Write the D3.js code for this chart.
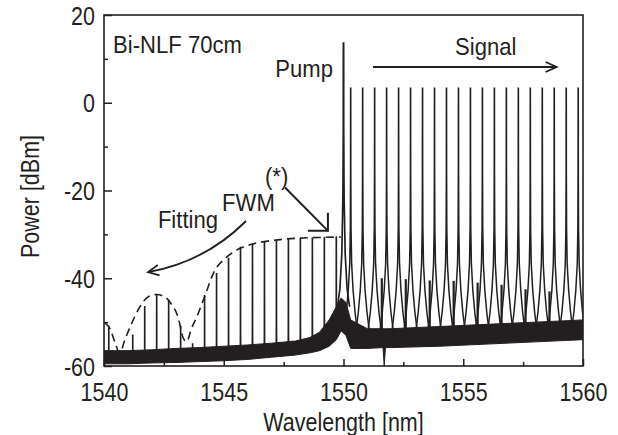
<!DOCTYPE html>
<html>
<head>
<meta charset="utf-8">
<script src="https://cdn.jsdelivr.net/npm/d3@7"></script>
<style>
body { margin: 0; background: #fff; }
svg text { font-family: "Liberation Sans", Arial, sans-serif; fill: #231f20; }
</style>
</head>
<body>
<script>
// ---- data ----
var xTicks = [1540, 1545, 1550, 1555, 1560];
var xMinor = [1542.5, 1547.5, 1552.5, 1557.5];
var yTicks = [-60, -40, -20, 0, 20];
var yMinor = [-50, -30, -10, 10];

var pumpWl = 1550.0;
var pumpDb = 13.6;

var signalWl = [1550.3, 1550.8, 1551.3, 1551.8, 1552.3, 1552.8, 1553.3, 1553.8, 1554.3, 1554.8,
                1555.3, 1555.8, 1556.3, 1556.8, 1557.3, 1557.8, 1558.3, 1558.8, 1559.3, 1559.8];
var signalDb = [3.3, 3.3, 3.3, 3.3, 3.3, 3.3, 3.3, 3.3, 3.3, 3.3,
                3.3, 3.3, 3.3, 3.3, 3.3, 3.3, 3.3, 3.3, 3.3, 3.3];

var idlerWl = [1549.7, 1549.2, 1548.7, 1548.2, 1547.7, 1547.2, 1546.7, 1546.2, 1545.7, 1545.2,
               1544.7, 1544.2, 1543.7, 1543.2, 1542.7, 1542.2, 1541.7, 1541.2, 1540.7, 1540.2];
var idlerDb = [-30.6, -30.7, -30.9, -31.0, -31.2, -31.5, -31.8, -32.3, -33.0, -35.5,
               -39.0, -44.0, -55.0, -51.0, -45.0, -43.8, -46.5, -53.0, -57.0, -51.0];

// small products between signals
var subWl = [1551.6, 1552.6, 1553.6, 1554.6, 1555.6, 1556.6, 1557.6, 1558.6];
var subDb = [-40.0, -40.2, -40.5, -40.6, -41.0, -41.5, -42.5, -43.0];

// noise floor band (lower / upper edge)
var floorWl = [1540.0, 1541.0, 1542.0, 1543.0, 1544.0, 1545.0, 1546.0, 1547.0, 1548.0, 1548.6,
               1549.0, 1549.4, 1549.7, 1549.9, 1550.1, 1550.3, 1551.0, 1551.65, 1551.7, 1551.75,
               1552.0, 1554.0, 1556.0, 1558.0, 1560.0];
var floorLo = [-59.5, -59.5, -59.3, -59.2, -59.0, -58.8, -58.5, -58.0, -57.5, -57.0,
               -56.5, -55.5, -54.0, -52.0, -53.0, -56.0, -56.0, -55.8, -60.0, -55.8,
               -55.8, -55.5, -55.0, -54.5, -54.0];
var floorHi = [-56.5, -56.5, -56.3, -56.0, -55.8, -55.5, -55.2, -54.8, -54.3, -53.5,
               -52.3, -49.5, -46.5, -44.5, -45.5, -49.5, -51.5, -51.5, -51.5, -51.5,
               -51.5, -51.0, -50.5, -50.0, -49.5];

// dashed FWM fitting envelope
var fitWl = [1540.05, 1540.25, 1540.45, 1540.65, 1540.9, 1541.1, 1541.5, 1541.85, 1542.2, 1542.55,
             1542.8, 1543.1, 1543.3, 1543.45, 1543.65, 1543.9, 1544.2, 1544.6, 1545.1, 1545.6,
             1546.2, 1547.0, 1548.0, 1549.0, 1549.9];
var fitDb = [-50.2, -51.5, -54.5, -57.0, -53.6, -51.0, -46.5, -44.2, -43.7, -44.3,
             -45.8, -49.0, -53.5, -54.5, -51.5, -48.5, -44.2, -38.5, -35.3, -33.4,
             -32.2, -31.4, -30.9, -30.7, -30.6];

// line shape of a spike: drop below peak [dB] vs half width [nm]
var lineDrop = [0, 20, 32, 40, 46, 51, 55];
var lineHalf = [0.003, 0.006, 0.015, 0.04, 0.1, 0.18, 0.27];
var pumpDrop = [0, 20, 35, 48, 56, 60, 63];
var pumpHalf = [0.006, 0.01, 0.025, 0.07, 0.15, 0.25, 0.4];

// ---- chart ----
var svgWidth = 618;
var svgHeight = 435;
var svg = d3.select('body')
    .append('svg')
    .attr('width', svgWidth)
    .attr('height', svgHeight);

var x = d3.scaleLinear().domain([1540, 1560]).range([104, 583]);
var y = d3.scaleLinear().domain([-60, 20]).range([366, 15]);
var floorTop = d3.scaleLinear().domain(floorWl).range(floorHi);

svg.append('defs').append('clipPath').attr('id', 'plot')
    .append('rect')
    .attr('x', x(1540)).attr('y', y(20))
    .attr('width', x(1560) - x(1540)).attr('height', y(-60) - y(20));

var g = svg.append('g').attr('clip-path', 'url(#plot)');

// noise floor
var floorData = floorWl.map(function (d, i) { return { wl: d, lo: floorLo[i], hi: floorHi[i] }; });
g.append('path')
    .datum(floorData)
    .attr('d', d3.area()
        .x(function (d) { return x(d.wl); })
        .y0(function (d) { return y(d.lo); })
        .y1(function (d) { return y(d.hi); }))
    .attr('fill', '#231f20')
    .attr('stroke', '#231f20')
    .attr('stroke-width', 1);

// spike from its top down to the noise floor
function peakPath(wl, db, drop, half) {
    var base = floorTop(wl) - 1.5;
    var lv = [], hw = [];
    for (var i = 0; i < drop.length; i++) {
        var level = db - drop[i];
        if (level > base) {
            lv.push(level); hw.push(half[i]);
        } else {
            if (i > 0) {
                var t = (lv[i - 1] - base) / (lv[i - 1] - level);
                hw.push(hw[i - 1] + t * (half[i] - hw[i - 1]));
            } else {
                hw.push(half[0]);
            }
            lv.push(base);
            break;
        }
    }
    if (lv[lv.length - 1] > base) { lv.push(base); hw.push(hw[hw.length - 1]); }
    var pts = [];
    for (var a = lv.length - 1; a >= 0; a--) pts.push([wl - hw[a], lv[a]]);
    for (var b = 0; b < lv.length; b++) pts.push([wl + hw[b], lv[b]]);
    return d3.line()
        .x(function (p) { return x(p[0]); })
        .y(function (p) { return y(p[1]); })(pts);
}

var pk = g.append('g')
    .attr('fill', 'none')
    .attr('stroke', '#231f20');

pk.selectAll('.idler')
    .data(idlerWl)
    .enter()
    .append('path')
        .attr('class', 'idler')
        .attr('d', function (d, i) { return peakPath(d, idlerDb[i], lineDrop, lineHalf); })
        .attr('stroke-width', 1.5);

pk.selectAll('.sub')
    .data(subWl)
    .enter()
    .append('line')
        .attr('class', 'sub')
        .attr('x1', function (d) { return x(d); })
        .attr('x2', function (d) { return x(d); })
        .attr('y1', function (d) { return y(floorTop(d) - 1); })
        .attr('y2', function (d, i) { return y(subDb[i]); })
        .attr('stroke-width', 2.2);

pk.selectAll('.signal')
    .data(signalWl)
    .enter()
    .append('path')
        .attr('class', 'signal')
        .attr('d', function (d, i) { return peakPath(d, signalDb[i], lineDrop, lineHalf); })
        .attr('stroke-width', 1.5);

pk.append('path')
    .attr('d', peakPath(pumpWl, pumpDb, pumpDrop, pumpHalf))
    .attr('stroke-width', 1.7);

// fitting envelope
g.append('path')
    .datum(fitWl.map(function (d, i) { return [d, fitDb[i]]; }))
    .attr('d', d3.line().curve(d3.curveMonotoneX)
        .x(function (d) { return x(d[0]); })
        .y(function (d) { return y(d[1]); }))
    .attr('fill', 'none')
    .attr('stroke', '#231f20')
    .attr('stroke-width', 1.6)
    .attr('stroke-dasharray', '8,5');

// ---- axes ----
var sx = 0.86; // the original lettering is narrow
function styleAxis(sel) {
    sel.attr('font-family', null).attr('font-size', null);
    sel.select('.domain').remove();
    sel.selectAll('line').attr('stroke', '#231f20').attr('stroke-width', 1.5);
    sel.selectAll('text').style('font-size', '25px').attr('fill', null);
}

svg.append('g')
    .attr('transform', 'translate(0,' + y(-60) + ')')
    .call(d3.axisBottom(x).tickValues(xTicks).tickSize(-7).tickFormat(function (d) { return String(d); }))
    .call(styleAxis)
    .call(function (s) {
        s.selectAll('text').attr('y', 35).attr('dy', null).attr('transform', 'scale(' + sx + ',1)');
    });

svg.append('g')
    .attr('transform', 'translate(0,' + y(-60) + ')')
    .call(d3.axisBottom(x).tickValues(xMinor).tickSize(-4).tickFormat(''))
    .call(styleAxis);

svg.append('g')
    .attr('transform', 'translate(' + x(1540) + ',0)')
    .call(d3.axisLeft(y).tickValues(yTicks).tickSize(-8).tickFormat(function (d) { return String(d); }))
    .call(styleAxis)
    .call(function (s) {
        s.selectAll('text').attr('x', -9 / sx).attr('dy', '0.36em').attr('transform', 'scale(' + sx + ',1)');
    });

svg.append('g')
    .attr('transform', 'translate(' + x(1540) + ',0)')
    .call(d3.axisLeft(y).tickValues(yMinor).tickSize(-4).tickFormat(''))
    .call(styleAxis);

svg.append('rect')
    .attr('x', x(1540)).attr('y', y(20))
    .attr('width', x(1560) - x(1540)).attr('height', y(-60) - y(20))
    .attr('fill', 'none')
    .attr('stroke', '#231f20')
    .attr('stroke-width', 1.6);

svg.append('text')
    .attr('transform', 'translate(30,' + ((y(20) + y(-60)) / 2 + 6) + ') rotate(-90) scale(' + sx + ',1)')
    .attr('text-anchor', 'middle')
    .attr('dy', '0.35em')
    .style('font-size', '25px')
    .text('Power [dBm]');

svg.append('text')
    .attr('transform', 'translate(' + ((x(1540) + x(1560)) / 2) + ',431) scale(' + sx + ',1)')
    .attr('text-anchor', 'middle')
    .style('font-size', '25px')
    .text('Wavelength [nm]');

// ---- annotations ----
var sa = 0.92;
function label(t, wl, db, anchor) {
    svg.append('text')
        .attr('transform', 'translate(' + x(wl) + ',' + y(db) + ') scale(' + sa + ',1)')
        .attr('text-anchor', anchor || 'start')
        .style('font-size', '24px')
        .text(t);
}
label('Bi-NLF 70cm', 1540.38, 11.3);
label('Pump', 1549.56, 5.9, 'end');
label('Signal', 1554.66, 10.8);
label('(*)', 1546.72, -18.75);
label('FWM', 1544.93, -24.7);
label('Fitting', 1542.25, -28.6);

var ann = svg.append('g')
    .attr('fill', 'none')
    .attr('stroke', '#231f20')
    .attr('stroke-width', 1.8);

// signal arrow
ann.append('line')
    .attr('x1', x(1551.23)).attr('y1', y(8.15))
    .attr('x2', x(1558.9)).attr('y2', y(8.15));
ann.append('path')
    .attr('d', 'M' + (x(1558.9) - 11) + ',' + (y(8.15) - 5) + 'L' + x(1558.9) + ',' + y(8.15) +
               'L' + (x(1558.9) - 11) + ',' + (y(8.15) + 5));

// (*) arrow
var tipX = x(1549.35), tipY = y(-29.2);
ann.append('line')
    .attr('x1', x(1547.56)).attr('y1', y(-19.3))
    .attr('x2', tipX).attr('y2', tipY)
    .attr('stroke-width', 2);
ann.append('path')
    .attr('d', 'M' + (tipX - 20) + ',' + tipY + 'L' + tipX + ',' + tipY + 'L' + tipX + ',' + (tipY - 18))
    .attr('stroke-width', 2);

// fitting arrow
var a0 = [x(1545.93), y(-26.95)], ac = [x(1544.22), y(-36.3)], a1 = [x(1541.84), y(-38.6)];
ann.append('path')
    .attr('d', 'M' + a0 + 'Q' + ac + ' ' + a1);
var ang = Math.atan2(a1[1] - ac[1], a1[0] - ac[0]);
var hl = 12;
ann.append('path')
    .attr('d', 'M' + (a1[0] - hl * Math.cos(ang - 0.45)) + ',' + (a1[1] - hl * Math.sin(ang - 0.45)) +
               'L' + a1 + 'L' + (a1[0] - hl * Math.cos(ang + 0.45)) + ',' + (a1[1] - hl * Math.sin(ang + 0.45)));
</script>
</body>
</html>
